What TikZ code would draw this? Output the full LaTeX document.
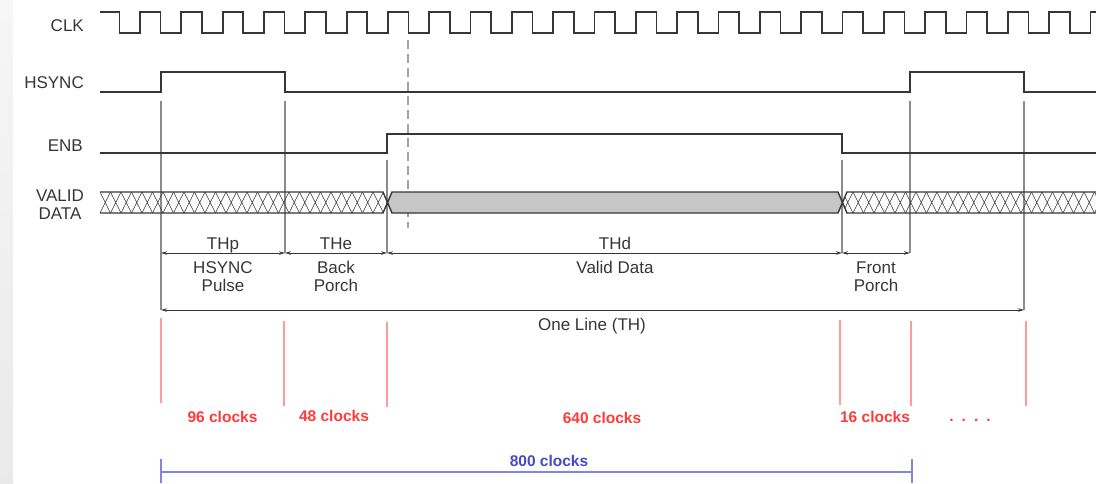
\documentclass[tikz,border=0pt]{standalone}
\usepackage{fontspec}
\setmainfont{Liberation Sans}
\usetikzlibrary{arrows.meta}

\definecolor{wavegray}{HTML}{363636}
\definecolor{guidegray}{HTML}{8C8C8C}
\definecolor{clkred}{HTML}{FF3B3B}
\definecolor{tickred}{HTML}{FF9A9A}
\definecolor{totalblue}{HTML}{4848C8}
\definecolor{lineblue}{HTML}{8484E4}
\definecolor{datafill}{HTML}{C6C6C6}

\begin{document}
\begin{tikzpicture}[x=1pt,y=-1pt,
  wave/.style={draw=wavegray,line width=1.7pt},
  guide/.style={draw=guidegray,line width=1.2pt},
  dim/.style={draw=wavegray,line width=1pt,>={Stealth[length=6pt,width=3.5pt]},<->},
  hatch/.style={draw=wavegray,line width=0.6pt},
  lbl/.style={text=wavegray,font=\fontsize{17}{18}\selectfont,inner sep=0pt},
  redlbl/.style={text=clkred,font=\fontsize{15.5}{17}\selectfont\bfseries,inner sep=0pt},
  redtick/.style={draw=tickred,line width=1.2pt}]

% light strip on the left edge
 \shade[top color=gray!7,bottom color=gray!17] (0,0) rectangle (13,483);
 \useasboundingbox (0,0) rectangle (1096,483);

% signal names
 \node[lbl,anchor=base east] (clk) at (84,31.5) {CLK};
 \node[lbl,anchor=base east] (hsync) at (84,88.5) {HSYNC};
 \node[lbl,anchor=base east] (enb) at (83,151.5) {ENB};
 \node[lbl,anchor=base] (valid) at (60,201) {VALID};
 \node[lbl,anchor=base] (data) at (60,219.5) {DATA};

% edge positions
 \coordinate (g1) at (161,101);  \coordinate (a1) at (161,253); \coordinate (b1) at (161,310);
 \coordinate (g2) at (285,101);  \coordinate (a2) at (285,253);
 \coordinate (g3) at (387,160);  \coordinate (a3) at (387,253);
 \coordinate (g4) at (842,160);  \coordinate (a4) at (842,253);
 \coordinate (g5) at (910,101);  \coordinate (a5) at (910,253);
 \coordinate (g6) at (1024,101); \coordinate (b2) at (1024,310);

% guide lines (under the waveforms)
 \draw[guide] (g1) -- (b1);
 \draw[guide] (g2) -- (a2);
 \draw[guide] (g3) -- (a3);
 \draw[guide] (g4) -- (a4);
 \draw[guide] (g5) -- (a5);
 \draw[guide] (g6) -- (b2);
 \draw[guidegray!80,line width=1.2pt,dash pattern=on 9pt off 5pt] (408,40) -- (408,228);

% CLK
 \draw[wave] (100,12) -- (119.5,12) -- (119.5,33)
   \foreach \i in {0,...,22} { -- ({140+41.33*\i},33) -- ({140+41.33*\i},12)
   -- ({160.5+41.33*\i},12) -- ({160.5+41.33*\i},33) }
   -- (1090.6,33) -- (1090.6,12) -- (1096,12);

% HSYNC
 \draw[wave] (100,92) -- (161,92) -- (161,72) -- (285,72) -- (285,92)
   -- (910,92) -- (910,72) -- (1024,72) -- (1024,92) -- (1096,92);

% ENB
 \draw[wave] (100,153) -- (387,153) -- (387,134) -- (842,134) -- (842,153) -- (1096,153);

% VALID DATA
 \fill[datafill] (387.5,202.5) -- (392,192) -- (838,192) -- (842.5,202.5)
   -- (838,213) -- (392,213) -- cycle;
 \begin{scope}
  \clip (100,192) -- (383,192) -- (387.5,202.5) -- (383,213) -- (100,213) -- cycle;
  \foreach \x in {100,110.5,...,390}
   \draw[hatch] (\x,192) -- ({\x+10.5},213) (\x,213) -- ({\x+10.5},192);
 \end{scope}
 \begin{scope}
  \clip (842.5,202.5) -- (847,192) -- (1096,192) -- (1096,213) -- (847,213) -- cycle;
  \foreach \x in {842.5,853,...,1100}
   \draw[hatch] (\x,192) -- ({\x+10.5},213) (\x,213) -- ({\x+10.5},192);
 \end{scope}
 \draw[wave,line width=1.4pt] (100,192) -- (383,192) -- (387.5,202.5) -- (392,192)
   -- (838,192) -- (842.5,202.5) -- (847,192) -- (1096,192);
 \draw[wave,line width=1.4pt] (100,213) -- (383,213) -- (387.5,202.5) -- (392,213)
   -- (838,213) -- (842.5,202.5) -- (847,213) -- (1096,213);

% timing parts
 \draw[dim] (a1) -- (a2);
 \draw[dim] (a2) -- (a3);
 \draw[dim] (a3) -- (a4);
 \draw[dim] (a4) -- (a5);
 \draw[dim] (b1) -- (b2);
 \node[lbl,anchor=base] (thp) at (223,249) {THp};
 \node[lbl,anchor=base] (the) at (336,249) {THe};
 \node[lbl,anchor=base] (thd) at (615,249) {THd};
 \node[lbl,anchor=base] (pulse1) at (223,273.3) {HSYNC};
 \node[lbl,anchor=base] (pulse2) at (223,291.7) {Pulse};
 \node[lbl,anchor=base] (back1) at (336,273.3) {Back};
 \node[lbl,anchor=base] (back2) at (336,291.7) {Porch};
 \node[lbl,anchor=base] (valdata) at (615,273.3) {Valid Data};
 \node[lbl,anchor=base] (front1) at (876,273.3) {Front};
 \node[lbl,anchor=base] (front2) at (876,291.7) {Porch};
 \node[lbl,anchor=base] (oneline) at (592,330.7) {One Line (TH)};

% clock counts
 \draw[redtick] (161,318) -- (161,403);
 \draw[redtick] (284,321) -- (284,406);
 \draw[redtick] (387,322) -- (387,407);
 \draw[redtick] (840,320) -- (840,405);
 \draw[redtick] (911,321) -- (911,406);
 \draw[redtick] (1026,321) -- (1026,406);
 \node[redlbl,anchor=base] (c96) at (222.5,422.5) {96 clocks};
 \node[redlbl,anchor=base] (c48) at (334,421.7) {48 clocks};
 \node[redlbl,anchor=base] (c640) at (602,423) {640 clocks};
 \node[redlbl,anchor=base] (c16) at (875,422.5) {16 clocks};
 \node[redlbl,anchor=base] (more) at (970,421) {.\hspace{8pt}.\hspace{8pt}.\hspace{8pt}.};

% whole line
 \coordinate (t1) at (161,459); \coordinate (t2) at (912,459);
 \draw[lineblue,line width=1.3pt] (t1) -- (161,483) (t2) -- (912,483);
 \draw[lineblue,line width=1.3pt] (161,472) -- (912,472);
 \node[text=totalblue,font=\fontsize{15.5}{17}\selectfont\bfseries,inner sep=0pt,anchor=base] (c800) at (549,466.7) {800 clocks};

\end{tikzpicture}
\end{document}
